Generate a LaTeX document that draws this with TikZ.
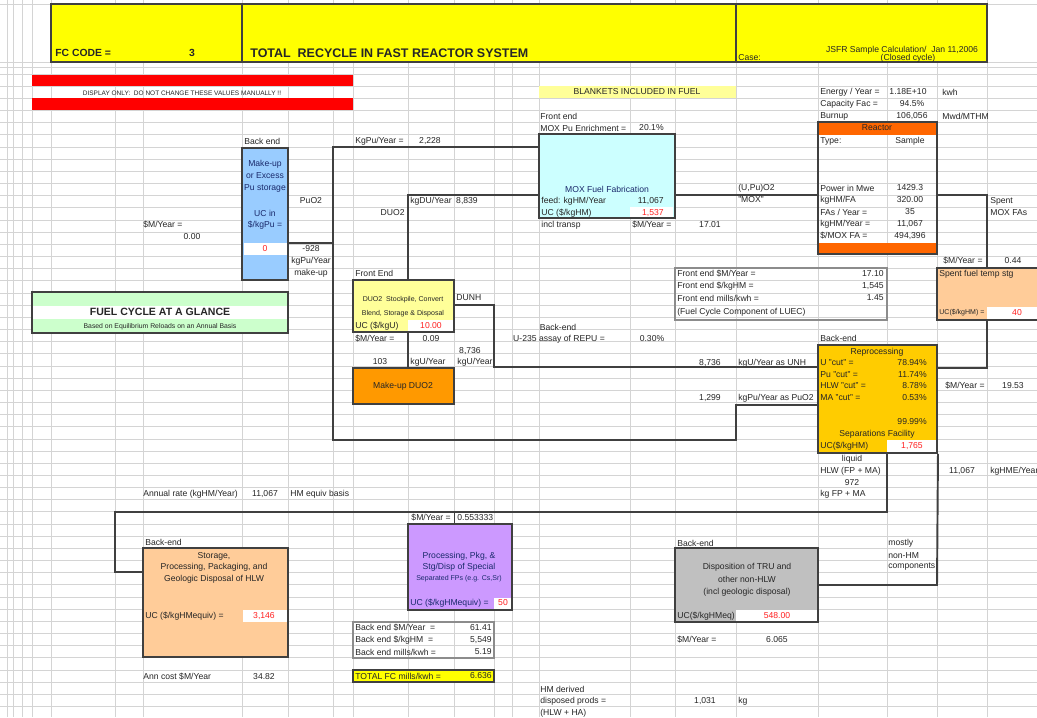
\documentclass[tikz,border=0pt]{standalone}
\usepackage{fontspec}
\setmainfont{Liberation Sans}
\usetikzlibrary{fit}
\definecolor{gridc}{HTML}{D4D4D4}
\definecolor{linec}{HTML}{404040}
\definecolor{bannery}{HTML}{FFFF00}
\definecolor{paley}{HTML}{FFFF99}
\definecolor{cyanbox}{HTML}{CCFFFF}
\definecolor{bluebox}{HTML}{99CCFF}
\definecolor{greenbox}{HTML}{CCFFCC}
\definecolor{orangebox}{HTML}{FF9900}
\definecolor{reactoror}{HTML}{FF6600}
\definecolor{peach}{HTML}{FFCC99}
\definecolor{goldbox}{HTML}{FFCC00}
\definecolor{purplebox}{HTML}{CC99FF}
\definecolor{graybox}{HTML}{C0C0C0}
\definecolor{navytx}{HTML}{1A2A6C}
\definecolor{valred}{HTML}{FF2020}
\tikzset{
  tx/.style={font=\fontsize{4.9}{5.5}\selectfont, inner sep=0pt, text=black!85},
  sm/.style={font=\fontsize{4}{4.6}\selectfont},
  box/.style={draw=linec, line width=1.1pt, inner sep=0pt},
  flow/.style={draw=linec, line width=1.1pt},
  sumbox/.style={draw=gray!90, line width=0.9pt, inner sep=0pt},
  gridline/.style={draw=gridc, line width=0.35pt},
  val/.style={text=valred},
  nv/.style={text=navytx},
}
\newcommand\txL[4][]{\node[tx,anchor=west,#1] (#2) at (#3) {#4};}
\newcommand\txC[4][]{\node[tx,#1] (#2) at (#3) {#4};}
\newcommand\txR[4][]{\node[tx,anchor=east,#1] (#2) at (#3) {#4};}
\begin{document}
\begin{tikzpicture}[x=0.02cm,y=-0.02cm]
\useasboundingbox (0,0) rectangle (1037,717);
\fill[white] (0,0) rectangle (1037,717);
% ---------- spreadsheet grid ----------
\foreach \gx in {7,13,22,32,51,115,143,242,288,333,353,408,454,494,512,539,630,675,736,818,887,937,987}
  \draw[gridline] (\gx,0) -- (\gx,717);
\foreach \gy in {4,62,67} \draw[gridline] (0,\gy) -- (1037,\gy);
\foreach \k in {0,...,53} \draw[gridline] (0,{74+12.16*\k}) -- (1037,{74+12.16*\k});

% ---------- banner ----------
\node[fit={(51,4)(987,62)}, box, line width=0.8pt, fill=bannery] (banner) {};
\draw[linec, line width=0.8pt] (242,4) -- (242,62) (736,4) -- (736,62);
\txL[font=\fontsize{5.9}{6.5}\selectfont\bfseries]{fc}{55,53}{FC CODE =}
\txC[font=\fontsize{5.9}{6.5}\selectfont\bfseries]{fcn}{192,53}{3}
\txL[font=\fontsize{7.1}{8}\selectfont\bfseries]{title}{250,53}{TOTAL\ \ RECYCLE IN FAST REACTOR SYSTEM}
\txL{case}{738,58}{Case:}
\txC{jsfr}{902,50}{JSFR Sample Calculation/\ \ Jan 11,2006}
\txC{closed}{908,58}{(Closed cycle)}

% ---------- red warning ----------
\node[fit={(32,75)(353,86)}, inner sep=0pt, fill=red] (rb1) {};
\node[fit={(32,98)(353,110)}, inner sep=0pt, fill=red] (rb2) {};
\txC[font=\fontsize{3.7}{4}\selectfont]{disp}{182,93}{DISPLAY ONLY:\ \ DO NOT CHANGE THESE VALUES MANUALLY !!}

% ---------- blankets / top right ----------
\node[fit={(539,86)(736,98)}, inner sep=0pt, fill=paley] (blk) {};
\txC{blktx}{637,92}{BLANKETS INCLUDED IN FUEL}
\txL{fe}{540,116}{Front end}
\txL{enr}{540,128}{MOX Pu Enrichment =}
\txR{enrv}{664,128}{20.1\%}
\txL{ey}{820,92}{Energy / Year =}
\txC{eyv}{908,92}{1.18E+10}
\txL{eyu}{942,92}{kwh}
\txL{cf}{820,104}{Capacity Fac =}
\txC{cfv}{912,104}{94.5\%}
\txL{bu}{820,116}{Burnup}
\txC{buv}{912,116}{106,056}
\txL{buu}{942,116}{Mwd/MTHM}

% ---------- reactor ----------
\fill[reactoror] (818,122) rectangle (937,135);
\fill[reactoror] (818,243) rectangle (937,254);
\node[fit={(818,122)(937,254)}, box] (reactor) {};
\txC{reactt}{877,128}{Reactor}
\txL{rtype}{820,141}{Type:}
\txC{rtypev}{910,141}{Sample}
\txL{rpw}{820,188}{Power in Mwe}
\txC{rpwv}{910,188}{1429.3}
\txL{rfa}{820,200}{kgHM/FA}
\txC{rfav}{910,200}{320.00}
\txL{rfy}{820,212}{FAs / Year =}
\txC{rfyv}{910,212}{35}
\txL{rhm}{820,224}{kgHM/Year =}
\txC{rhmv}{910,224}{11,067}
\txL{rmx}{820,236}{\$/MOX FA =}
\txC{rmxv}{910,236}{494,396}

% ---------- MOX fabrication ----------
\node[fit={(539,134)(675,218)}, box, fill=cyanbox] (mox) {};
\fill[white] (630,207) rectangle (673,217);
\txC[nv]{moxt}{607,189}{MOX Fuel Fabrication}
\txL{feed}{541,201}{feed: kgHM/Year}
\txR{feedv}{664,201}{11,067}
\txL{moxuc}{541,213}{UC (\$/kgHM)}
\txR[val]{moxucv}{664,213}{1,537}
\txL{incl}{541,225}{incl transp}
\txL{moxm}{632,225}{\$M/Year =}
\txC{moxmv}{710,225}{17.01}
\txL{upu}{738,188}{(U,Pu)O2}
\txL{moxq}{738,200}{"MOX"}
\txL{spent1}{990,201}{Spent}
\txL{spent2}{990,213}{MOX FAs}

% ---------- Pu storage ----------
\node[fit={(242,148)(288,280)}, box, fill=bluebox] (pustore) {};
\fill[white] (243.5,243) rectangle (286.5,255);
\txL{bkend}{244,141}{Back end}
\txC[nv]{ps1}{265,164}{Make-up}
\txC[nv]{ps2}{265,176}{or Excess}
\txC[nv]{ps3}{265,188}{Pu storage}
\txC[nv]{ps4}{265,213}{UC in}
\txC[nv]{ps5}{265,225}{\$/kgPu =}
\txC[val]{ps6}{265,249}{0}
\txL{psm}{143,225}{\$M/Year =}
\txC{psmv}{192,237}{0.00}
\txC{puo2}{311,201}{PuO2}
\txC{mk1}{311,249}{-928}
\txC{mk2}{311,261}{kgPu/Year}
\txC{mk3}{311,273}{make-up}
\txL{kgpu}{355,141}{KgPu/Year =}
\txC{kgpuv}{430,141}{2,228}
\txL{kgdu}{410,201}{kgDU/Year}
\txC{kgduv}{467,201}{8,839}
\txR{duo2}{405,213}{DUO2}

% ---------- fuel cycle at a glance ----------
\node[fit={(32,292)(288,333)}, box, line width=0.8pt, fill=greenbox] (glance) {};
\fill[white] (33,306) rectangle (287,319);
\txC[font=\fontsize{6}{7}\selectfont\bfseries]{gl1}{160,312}{FUEL CYCLE AT A GLANCE}
\txC[font=\fontsize{3.9}{4.4}\selectfont]{gl2}{160,327}{Based on Equilibrium Reloads on an Annual Basis}

% ---------- DUO2 stockpile ----------
\node[fit={(353,280)(454,332)}, box, fill=paley] (stock) {};
\fill[white] (408,320) rectangle (453,331);
\txL{fend}{355,273}{Front End}
\txC[sm]{st1}{403,300}{DUO2\ \ Stockpile, Convert}
\txC[sm]{st2}{403,314}{Blend, Storage \& Disposal}
\txL{stuc}{355,326}{UC (\$/kgU)}
\txC[val]{stucv}{431,326}{10.00}
\txL{dunh}{456,298}{DUNH}
\txL{stm}{355,339}{\$M/Year =}
\txC{stmv}{431,339}{0.09}
\txC{u8736a}{470,351}{8,736}
\txC{n103}{380,362}{103}
\txC{kgu1}{428,362}{kgU/Year}
\txC{kgu2}{475,362}{kgU/Year}
\txC{bkend2}{558,327}{Back-end}
\txC{u235}{559,339}{U-235 assay of REPU =}
\txC{u235v}{652,339}{0.30\%}

% ---------- make-up DUO2 ----------
\node[fit={(353,368)(454,404)}, box, fill=orangebox] (mudu) {};
\txC{mudut}{403,386}{Make-up DUO2}

% ---------- front end summary ----------
\node[fit={(675,268)(887,320)}, sumbox] (fesum) {};
\txL{fs1}{677,274}{Front end \$M/Year =}
\txR{fs1v}{884,274}{17.10}
\txL{fs2}{677,286}{Front end \$/kgHM =}
\txR{fs2v}{884,286}{1,545}
\txL{fs3}{677,298}{Front end mills/kwh =}
\txR{fs3v}{884,298}{1.45}
\txL{fs4}{677,312}{(Fuel Cycle Component of LUEC)}

% ---------- spent fuel temp storage ----------
\node[fit={(937,268)(1050,320)}, box, fill=peach] (spent) {};
\fill[white] (987,307) rectangle (1037,319);
\txL{sps}{943,261}{\$M/Year =}
\txC{spsv}{1013,261}{0.44}
\txL{spt}{939,274}{Spent fuel temp stg}
\txL[sm]{spuc}{939,313}{UC(\$/kgHM) =}
\txC[val]{spucv}{1017,313}{40}

% ---------- reprocessing ----------
\node[fit={(818,345)(937,453)}, box, fill=goldbox] (repro) {};
\fill[white] (887,440) rectangle (936,452);
\txL{bkend3}{820,338}{Back-end}
\txC{rp0}{877,352}{Reprocessing}
\txL{rp1}{820,363}{U "cut" =}
\txR{rp1v}{927,363}{78.94\%}
\txL{rp2}{820,375}{Pu "cut" =}
\txR{rp2v}{927,375}{11.74\%}
\txL{rp3}{820,386}{HLW "cut" =}
\txR{rp3v}{927,386}{8.78\%}
\txL{rp4}{820,398}{MA "cut" =}
\txR{rp4v}{927,398}{0.53\%}
\txR{rp5}{927,422}{99.99\%}
\txC{rp6}{877,434}{Separations Facility}
\txL{rp7}{820,446}{UC(\$/kgHM)}
\txC[val]{rp7v}{912,446}{1,765}
\txC{u8736b}{710,363}{8,736}
\txL{unh}{738,363}{kgU/Year as UNH}
\txC{pu1299}{710,398}{1,299}
\txL{puas}{738,398}{kgPu/Year as PuO2}
\txL{rpm}{945,386}{\$M/Year =}
\txC{rpmv}{1013,386}{19.53}
\txC{liq}{852,459}{liquid}
\txL{hlwfp}{820,471}{HLW (FP + MA)}
\txC{n972}{852,483}{972}
\txL{kgfp}{820,494}{kg FP + MA}
\txC{hme}{962,471}{11,067}
\txL{hmeu}{990,471}{kgHME/Year}

% ---------- HLW storage ----------
\txL{ann}{143,494}{Annual rate (kgHM/Year)}
\txC{annv}{265,494}{11,067}
\txL{annb}{290,494}{HM equiv basis}
\node[fit={(143,548)(288,657)}, box, fill=peach] (hlw) {};
\fill[white] (243,610) rectangle (287,622);
\txL{bkend4}{145,542}{Back-end}
\txC{hl1}{214,556}{Storage,}
\txC{hl2}{214,567}{Processing, Packaging, and}
\txC{hl3}{214,579}{Geologic Disposal of HLW}
\txL{hluc}{145,616}{UC (\$/kgHMequiv) =}
\txC[val]{hlucv}{264,616}{3,146}
\txL{hlc}{143,677}{Ann cost \$M/Year}
\txC{hlcv}{264,677}{34.82}

% ---------- special FPs ----------
\txR{fpm}{451,518}{\$M/Year =}
\txL{fpmv}{457,518}{0.553333}
\draw[linec, line width=0.5pt] (454,512.5) -- (454,524);
\node[fit={(408,524)(512,610)}, box, fill=purplebox] (fps) {};
\fill[white] (494,598) rectangle (511,609);
\txC[nv]{fp1}{459,556}{Processing, Pkg, \&}
\txC[nv]{fp2}{459,567}{Stg/Disp of Special}
\txC[nv,sm]{fp3}{459,579}{Separated FPs (e.g. Cs,Sr)}
\txL[nv]{fpuc}{410,603}{UC (\$/kgHMequiv) =}
\txC[val]{fpucv}{503,603}{50}

% ---------- back end summary / total ----------
\node[fit={(353,622)(494,658)}, sumbox] (besum) {};
\txL{bs1}{355,628}{Back end \$M/Year\ \ =}
\txR{bs1v}{492,628}{61.41}
\txL{bs2}{355,640}{Back end \$/kgHM\ \ =}
\txR{bs2v}{492,640}{5,549}
\txL{bs3}{355,652}{Back end mills/kwh =}
\txR{bs3v}{492,652}{5.19}
\node[fit={(353,670)(494,682)}, box, line width=0.9pt, fill=bannery] (total) {};
\txL{tot}{355,676}{TOTAL FC mills/kwh =}
\txR{totv}{492,676}{6.636}
\txL{hmd1}{540,689}{HM derived}
\txL{hmd2}{540,701}{disposed prods =}
\txL{hmd3}{540,713}{(HLW + HA)}
\txC{hmdv}{705,701}{1,031}
\txL{hmdu}{738,701}{kg}

% ---------- TRU disposition ----------
\node[fit={(675,548)(818,622)}, box, fill=graybox] (tru) {};
\fill[white] (736,610) rectangle (817,621);
\txL{bkend5}{677,543}{Back-end}
\txC{tr1}{747,567}{Disposition of TRU and}
\txC{tr2}{747,579}{other non-HLW}
\txC{tr3}{747,592}{(incl geologic disposal)}
\txL{truc}{677,616}{UC(\$/kgHMeq)}
\txC[val]{trucv}{777,616}{548.00}
\txL{trm}{677,640}{\$M/Year =}
\txC{trmv}{777,640}{6.065}
\txL{mo1}{888,543}{mostly}
\txL{mo2}{888,556}{non-HM}
\txL{mo3}{888,567}{components}

% ---------- connectors ----------
\coordinate (puA) at (333,243);
\draw[flow] (pustore.east |- puA) -- (puA);
\coordinate (pu1) at (736,405);
\coordinate (pu2) at (736,440);
\coordinate (pu3) at (333,440);
\coordinate (pu4) at (333,147);
\draw[flow] (repro.west |- pu1) -- (pu1) -- (pu2) -- (pu3) -- (pu4) -- (mox.west |- pu4);
\coordinate (du1) at (408,195);
\draw[flow] (mudu.north -| du1) -- (stock.south -| du1);
\draw[flow] (stock.north -| du1) -- (du1) -- (mox.west |- du1);
\coordinate (u1) at (494,367);
\coordinate (u2) at (494,305);
\draw[flow] (repro.west |- u1) -- (u1) -- (u2) -- (stock.east |- u2);
\coordinate (mr) at (700,195);
\draw[flow] (mox.east |- mr) -- (reactor.west |- mr);
\coordinate (rs) at (987,195);
\draw[flow] (reactor.east |- rs) -- (rs) -- (spent.north -| rs);
\coordinate (sr) at (987,368);
\draw[flow] (spent.south -| sr) -- (sr) -- (repro.east |- sr);
\coordinate (h1) at (887,512);
\coordinate (h2) at (115,512);
\coordinate (h3) at (115,572);
\draw[flow] (repro.south -| h1) -- (h1) -- (h2) -- (h3) -- (hlw.west |- h3);
\coordinate (t1) at (937,585);
\draw[flow] (repro.south east) -- (t1) -- (tru.east |- t1);
\end{tikzpicture}
\end{document}
